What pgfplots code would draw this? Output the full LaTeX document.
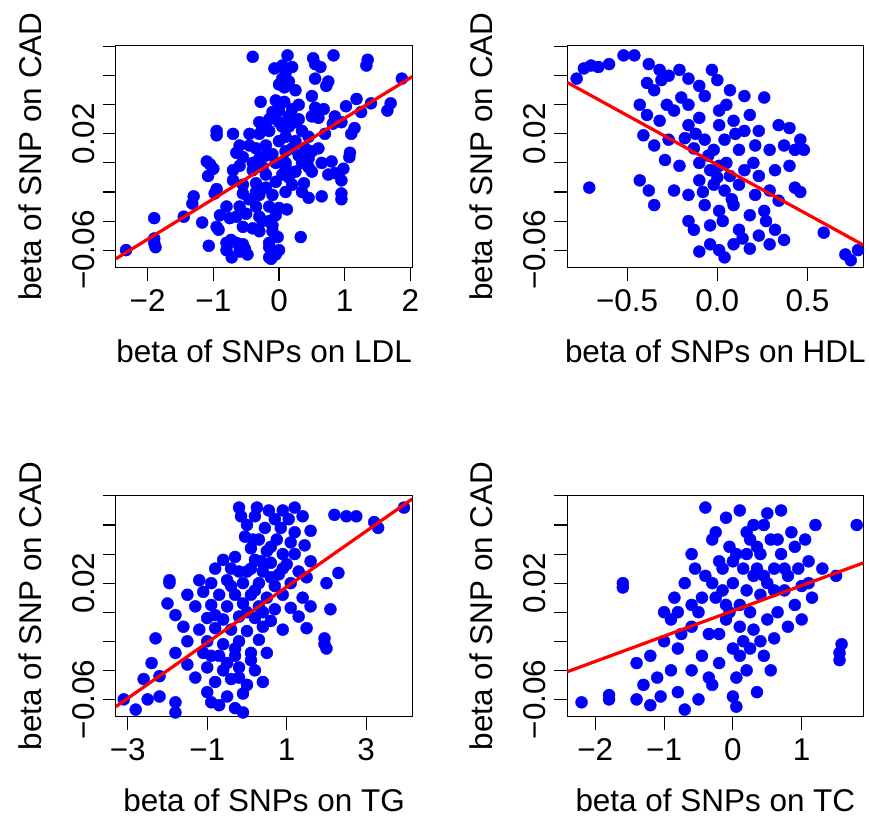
\documentclass[border=0pt]{standalone}
\usepackage{fontspec}
\setmainfont{Liberation Sans}
\usepackage{pgfplots}
\pgfplotsset{compat=1.18}
\definecolor{rblue}{RGB}{0,0,255}
\definecolor{rred}{RGB}{255,0,0}
\pgfplotsset{
  rpanel/.style={
    anchor=south west, scale only axis, width=297pt, height=222pt,
    font=\fontsize{31.5}{38}\selectfont,
    axis line style={line width=1.1pt},
    xtick style={line width=1.1pt,draw=black},
    ytick style={line width=1.1pt,draw=black},
    tick pos=left,
    tick align=outside, major tick length=13pt,
    ymin=-0.072, ymax=0.0805, scaled y ticks=false, scaled x ticks=false,
    ytick={-0.06,-0.04,-0.02,0,0.02,0.04,0.06,0.08},
    yticklabels={−0.06,,,,0.02,,,},
    yticklabel style={rotate=90,anchor=south,inner sep=0pt},
    yticklabel shift=8pt,
    xticklabel style={inner sep=0pt,anchor=north,yshift=-9pt},
    ylabel={beta of SNP on CAD},
    x label style={at={(axis description cs:0.5,0)},anchor=center,yshift=-84pt},
    y label style={at={(axis description cs:0,0.5)},anchor=center,yshift=86pt},
    clip mode=individual,
  },
  pts/.style={only marks, mark=*, mark size=6pt, color=rblue},
  fit/.style={rred, line width=3.2pt, no marks},
}
\begin{document}
\begin{tikzpicture}
\path (0,0) rectangle (869pt,819pt);
% Panel 1 LDL
\begin{axis}[rpanel, at={(116pt,551pt)}, xmin=-2.485, xmax=2.03,
  xtick={-2,-1,0,1,2}, xticklabels={−2,−1,0,1,2}, xlabel={beta of SNPs on LDL}]
\addplot[pts] coordinates {
(-0.4,0.073)(0.13,0.074)(0.52,0.072)(0.83,0.074)(1.35,0.071)(1.33,0.067)(0.55,0.068)(0.63,0.066)(-0.07,0.065)(0.05,0.067)(0.2,0.066)(0.1,0.062)(0.05,0.058)(0.15,0.056)(0.0,0.054)(0.08,0.052)(0.25,0.05)(0.55,0.058)(0.75,0.056)(0.72,0.053)(1.87,0.058)(0.5,0.046)(-0.28,0.042)(-0.05,0.043)(0.08,0.042)(1.18,0.044)(1.02,0.039)(1.4,0.041)(1.7,0.041)(1.65,0.036)(1.25,0.035)(0.55,0.038)(0.68,0.037)(0.2,0.037)(0.0,0.036)(-0.1,0.035)(0.15,0.032)(0.3,0.03)(0.5,0.032)(0.6,0.031)(0.85,0.032)(0.95,0.028)(0.82,0.027)(1.15,0.024)(1.1,0.02)(-0.3,0.028)(-0.25,0.025)(-0.3,0.02)(-0.95,0.022)(-0.95,0.019)(-0.7,0.02)(-0.15,0.022)(0.05,0.025)(0.35,0.022)(0.45,0.018)(0.7,0.02)(-0.6,0.012)(-0.45,0.012)(-0.35,0.01)(-0.2,0.012)(0.0,0.015)(0.1,0.018)(0.2,0.01)(0.4,0.01)(0.5,0.008)(1.08,0.007)(1.07,0.004)(-0.65,0.007)(-0.55,0.004)(-0.3,0.003)(-0.1,0.006)(0.3,0.005)(0.45,0.003)(0.8,0.001)(-1.1,0.001)(-1.05,-0.001)(-1.0,-0.004)(-1.08,-0.009)(-0.7,-0.005)(-0.6,-0.002)(-0.4,-0.005)(-0.25,-0.003)(0.1,-0.003)(0.25,-0.006)(0.5,-0.006)(0.75,-0.008)(0.85,-0.007)(0.98,-0.004)(0.95,-0.012)(-0.7,-0.012)(-0.55,-0.015)(-0.35,-0.014)(-0.2,-0.017)(-0.05,-0.013)(0.15,-0.01)(0.38,-0.014)(-0.95,-0.018)(-0.98,-0.021)(-0.55,-0.021)(-0.3,-0.022)(-0.1,-0.022)(0.1,-0.02)(0.95,-0.021)(0.95,-0.025)(0.45,-0.024)(0.65,-0.023)(-1.3,-0.023)(-1.32,-0.028)(-0.8,-0.03)(-0.6,-0.03)(-0.35,-0.03)(-0.15,-0.03)(0.0,-0.031)(0.12,-0.032)(-0.9,-0.036)(-0.75,-0.038)(-0.65,-0.037)(-0.3,-0.037)(-0.15,-0.04)(-1.45,-0.037)(-1.9,-0.038)(-1.17,-0.041)(-0.95,-0.044)(-0.92,-0.046)(-0.55,-0.044)(-0.4,-0.045)(-0.3,-0.047)(-0.1,-0.043)(-0.1,-0.047)(0.33,-0.051)(-0.73,-0.053)(-0.8,-0.055)(-0.55,-0.056)(-0.65,-0.055)(-0.15,-0.055)(-0.02,-0.051)(-1.9,-0.052)(-1.9,-0.055)(-1.88,-0.058)(-1.07,-0.057)(-0.8,-0.06)(-0.6,-0.061)(-0.52,-0.059)(-0.48,-0.063)(0.0,-0.06)(-0.15,-0.058)(-0.72,-0.065)(-0.15,-0.065)(-0.12,-0.066)(-2.33,-0.06)(-0.05,-0.063)(0.45,-0.003)
(-0.2,0.005)(-0.05,0.0)(0.1,0.008)(0.25,0.015)(0.35,0.0)(0.2,-0.015)(-0.35,-0.02)(-0.45,-0.025)(-0.2,-0.008)(0.05,-0.008)(0.15,0.025)(0.3,0.04)(-0.15,0.03)(0.0,0.028)(0.25,0.028)(-0.4,0.0)(-0.25,-0.04)(-0.05,-0.036)(0.1,0.0)(0.6,0.01)(0.65,0.0)(0.35,-0.02)(-0.5,-0.035)(-0.45,0.02)
};
\addplot[fit] coordinates {(-2.485,-0.066)(2.03,0.0594)};
\end{axis}
% Panel 2 HDL
\begin{axis}[rpanel, at={(568pt,551pt)}, xmin=-0.833, xmax=0.811,
  xtick={-0.5,0,0.5}, xticklabels={−0.5,0.0,0.5}, xlabel={beta of SNPs on HDL}]
\addplot[pts] coordinates {
(-0.78,0.058)(-0.74,0.065)(-0.70,0.067)(-0.66,0.066)(-0.6,0.068)(-0.52,0.074)(-0.46,0.074)(-0.38,0.068)(-0.32,0.064)(-0.31,0.057)(-0.39,0.055)(-0.35,0.05)(-0.27,0.06)(-0.21,0.064)(-0.16,0.058)(-0.1,0.053)(-0.07,0.046)(0.0,0.057)(0.07,0.05)(0.15,0.046)(0.26,0.045)(-0.03,0.064)(-0.43,0.04)(-0.39,0.033)(-0.32,0.029)(-0.24,0.036)(-0.16,0.04)(-0.1,0.031)(0.01,0.036)(0.09,0.029)(0.18,0.033)(0.23,0.022)(0.34,0.026)(0.4,0.024)(-0.41,0.019)(-0.35,0.012)(-0.27,0.016)(-0.18,0.017)(-0.13,0.01)(-0.07,0.016)(-0.02,0.009)(0.04,0.016)(0.12,0.009)(0.21,0.012)(0.29,0.009)(0.37,0.012)(0.43,0.009)(0.48,0.009)(0.46,0.016)(-0.29,0.002)(-0.21,-0.002)(-0.1,0.0)(-0.04,-0.005)(0.01,-0.002)(0.07,-0.009)(0.15,-0.005)(0.23,-0.009)(0.32,-0.005)(0.4,-0.002)(-0.1,-0.012)(-0.02,-0.015)(0.04,-0.019)(0.12,-0.015)(0.21,-0.022)(0.29,-0.019)(0.34,-0.026)(0.43,-0.017)(0.46,-0.02)(-0.71,-0.017)(-0.43,-0.012)(-0.38,-0.019)(-0.35,-0.029)(-0.24,-0.019)(-0.16,-0.022)(-0.07,-0.029)(0.01,-0.033)(0.09,-0.029)(0.18,-0.036)(0.26,-0.033)(-0.16,-0.04)(-0.13,-0.046)(-0.04,-0.043)(0.12,-0.046)(0.23,-0.05)(0.32,-0.046)(0.37,-0.053)(0.59,-0.048)(-0.04,-0.056)(0.01,-0.06)(0.09,-0.056)(0.18,-0.059)(0.29,-0.056)(0.04,-0.065)(-0.1,-0.061)(0.71,-0.063)(0.74,-0.067)(0.78,-0.06)(0.01,0.026)(0.15,0.022)(-0.16,0.026)
(-0.05,0.005)(0.05,0.0)(0.1,0.02)(-0.12,0.02)(0.0,-0.01)(0.08,-0.025)(-0.08,-0.02)(0.2,0.0)(0.27,-0.04)(0.05,0.04)(-0.2,0.045)(-0.28,0.04)(0.03,-0.04)(0.14,-0.052)
};
\addplot[fit] coordinates {(-0.833,0.0554)(0.811,-0.0566)};
\end{axis}
% Panel 3 TG
\begin{axis}[rpanel, at={(116pt,101pt)}, xmin=-3.3, xmax=4.16,
  xtick={-3,-1,1,3}, xticklabels={−3,−1,1,3}, xlabel={beta of SNPs on TG}]
\addplot[pts] coordinates {
(-0.2,0.072)(0.25,0.072)(0.55,0.07)(0.9,0.07)(1.2,0.072)(2.2,0.067)(2.5,0.066)(2.75,0.066)(3.95,0.072)(3.2,0.062)(3.3,0.058)(-0.15,0.066)(0.2,0.066)(0.7,0.064)(1.05,0.064)(1.4,0.066)(0.0,0.06)(0.45,0.058)(0.85,0.058)(1.2,0.055)(1.6,0.056)(-0.05,0.052)(0.3,0.05)(0.75,0.05)(1.1,0.048)(1.45,0.046)(0.1,0.044)(0.5,0.042)(0.9,0.04)(-0.3,0.038)(-0.6,0.036)(0.2,0.036)(0.6,0.034)(1.0,0.033)(1.6,0.035)(-0.8,0.03)(-0.4,0.03)(0.0,0.028)(0.4,0.028)(0.8,0.026)(1.3,0.028)(2.3,0.027)(-1.95,0.022)(-1.95,0.02)(-1.2,0.022)(-0.9,0.02)(-0.5,0.022)(-0.1,0.02)(0.3,0.02)(0.7,0.018)(1.1,0.02)(1.5,0.024)(2.0,0.02)(-1.5,0.012)(-1.1,0.014)(-0.7,0.012)(-0.3,0.012)(0.1,0.012)(0.5,0.01)(0.9,0.012)(1.4,0.01)(-2.0,0.006)(-1.3,0.004)(-0.9,0.005)(-0.5,0.004)(-0.1,0.006)(0.3,0.004)(0.7,0.002)(1.1,0.003)(1.6,0.004)(2.1,0.002)(-1.8,-0.002)(-1.0,-0.004)(-0.6,-0.005)(-0.2,-0.003)(0.2,-0.004)(0.6,-0.006)(1.3,-0.003)(-1.6,-0.01)(-1.2,-0.012)(-0.8,-0.011)(-0.4,-0.012)(0.0,-0.013)(0.4,-0.01)(0.9,-0.012)(1.5,-0.011)(1.95,-0.018)(1.95,-0.022)(2.0,-0.025)(-2.3,-0.018)(-1.5,-0.02)(-1.0,-0.02)(-0.6,-0.022)(-0.2,-0.02)(0.3,-0.019)(-1.8,-0.028)(-1.1,-0.028)(-0.7,-0.03)(-0.3,-0.03)(0.1,-0.028)(0.5,-0.028)(-2.4,-0.035)(-1.5,-0.036)(-1.0,-0.038)(-0.6,-0.04)(-0.2,-0.038)(0.2,-0.04)(-2.6,-0.046)(-2.2,-0.044)(-1.3,-0.045)(-0.8,-0.048)(-0.4,-0.046)(0.0,-0.05)(0.4,-0.048)(-1.0,-0.055)(-0.5,-0.058)(-0.1,-0.056)(-3.1,-0.06)(-2.5,-0.06)(-2.2,-0.058)(-1.8,-0.062)(-0.7,-0.064)(-0.3,-0.066)(-2.8,-0.067)(-1.8,-0.069)(-0.1,-0.069)(-0.9,-0.062)
(0.1,0.03)(0.35,0.035)(-0.2,0.028)(0.6,0.024)(0.2,0.015)(-0.4,0.018)(0.0,0.0)(0.4,0.0)(-0.8,-0.002)(-0.3,-0.025)(0.1,-0.033)(-0.5,-0.035)(-0.9,-0.03)(0.15,0.05)(0.6,0.045)(0.9,0.03)(-0.2,-0.045)(1.2,0.04)
};
\addplot[fit] coordinates {(-3.3,-0.065)(4.16,0.078)};
\end{axis}
% Panel 4 TC
\begin{axis}[rpanel, at={(568pt,101pt)}, xmin=-2.41, xmax=1.9,
  xtick={-2,-1,0,1}, xticklabels={−2,−1,0,1}, xlabel={beta of SNPs on TC}]
\addplot[pts] coordinates {
(-2.2,-0.062)(-1.8,-0.06)(-1.8,-0.057)(-1.6,0.02)(-1.6,0.017)(-1.4,-0.06)(-1.3,-0.05)(-1.2,-0.064)(-1.1,-0.045)(-1.05,-0.058)(-1.2,-0.03)(-1.0,0.0)(-1.0,-0.02)(-0.9,-0.04)(-0.85,0.01)(-0.8,-0.025)(-0.8,-0.055)(-0.7,-0.067)(-0.7,0.02)(-0.6,-0.01)(-0.6,-0.04)(-0.6,0.04)(-0.5,-0.06)(-0.5,0.0)(-0.45,-0.03)(-0.4,0.025)(-0.4,0.072)(-0.35,-0.015)(-0.3,0.05)(-0.3,-0.05)(-0.25,0.01)(-0.2,-0.035)(-0.2,0.035)(-0.1,0.065)(-0.1,-0.005)(-0.05,0.045)(0.0,-0.025)(0.0,0.02)(0.0,-0.058)(0.05,-0.065)(0.05,-0.045)(0.1,0.07)(0.1,0.005)(0.15,0.03)(0.15,-0.02)(0.2,0.055)(0.2,-0.04)(0.25,0.0)(0.3,0.06)(0.3,0.025)(0.3,-0.012)(0.35,-0.055)(0.4,0.04)(0.4,0.012)(0.45,-0.03)(0.5,0.068)(0.5,0.02)(0.5,-0.005)(0.55,0.05)(0.6,0.03)(0.6,-0.018)(0.65,0.0)(0.7,0.07)(0.7,0.04)(0.75,0.015)(0.8,-0.01)(0.8,0.025)(0.9,0.045)(0.9,0.005)(0.95,0.03)(1.0,0.018)(1.0,-0.005)(1.1,0.035)(1.15,0.01)(1.2,0.06)(1.3,0.03)(1.5,0.025)(1.55,-0.028)(1.55,-0.033)(1.58,-0.022)(1.8,0.06)(-0.15,0.015)(0.05,0.04)(-0.35,-0.045)(0.25,-0.025)(-0.6,0.005)(-0.9,-0.005)(-1.4,-0.035)(0.55,-0.04)(0.1,-0.03)(-0.25,0.055)(0.45,0.06)(-0.75,-0.015)(0.35,0.045)(0.65,0.05)(-0.05,0.0)(0.85,0.055)(1.05,0.05)
(-0.3,0.02)(-0.15,0.03)(0.0,0.035)(0.2,0.015)(0.35,0.03)(-0.45,0.01)(-0.1,0.005)(0.1,-0.01)(0.2,0.04)(0.45,0.025)(0.6,0.015)(-0.55,0.03)(0.25,0.05)(-0.2,-0.015)(0.4,-0.02)(0.75,0.03)(1.1,0.02)(-0.8,0.0)
};
\addplot[fit] coordinates {(-2.41,-0.041)(1.9,0.034)};
\end{axis}
\end{tikzpicture}
\end{document}
